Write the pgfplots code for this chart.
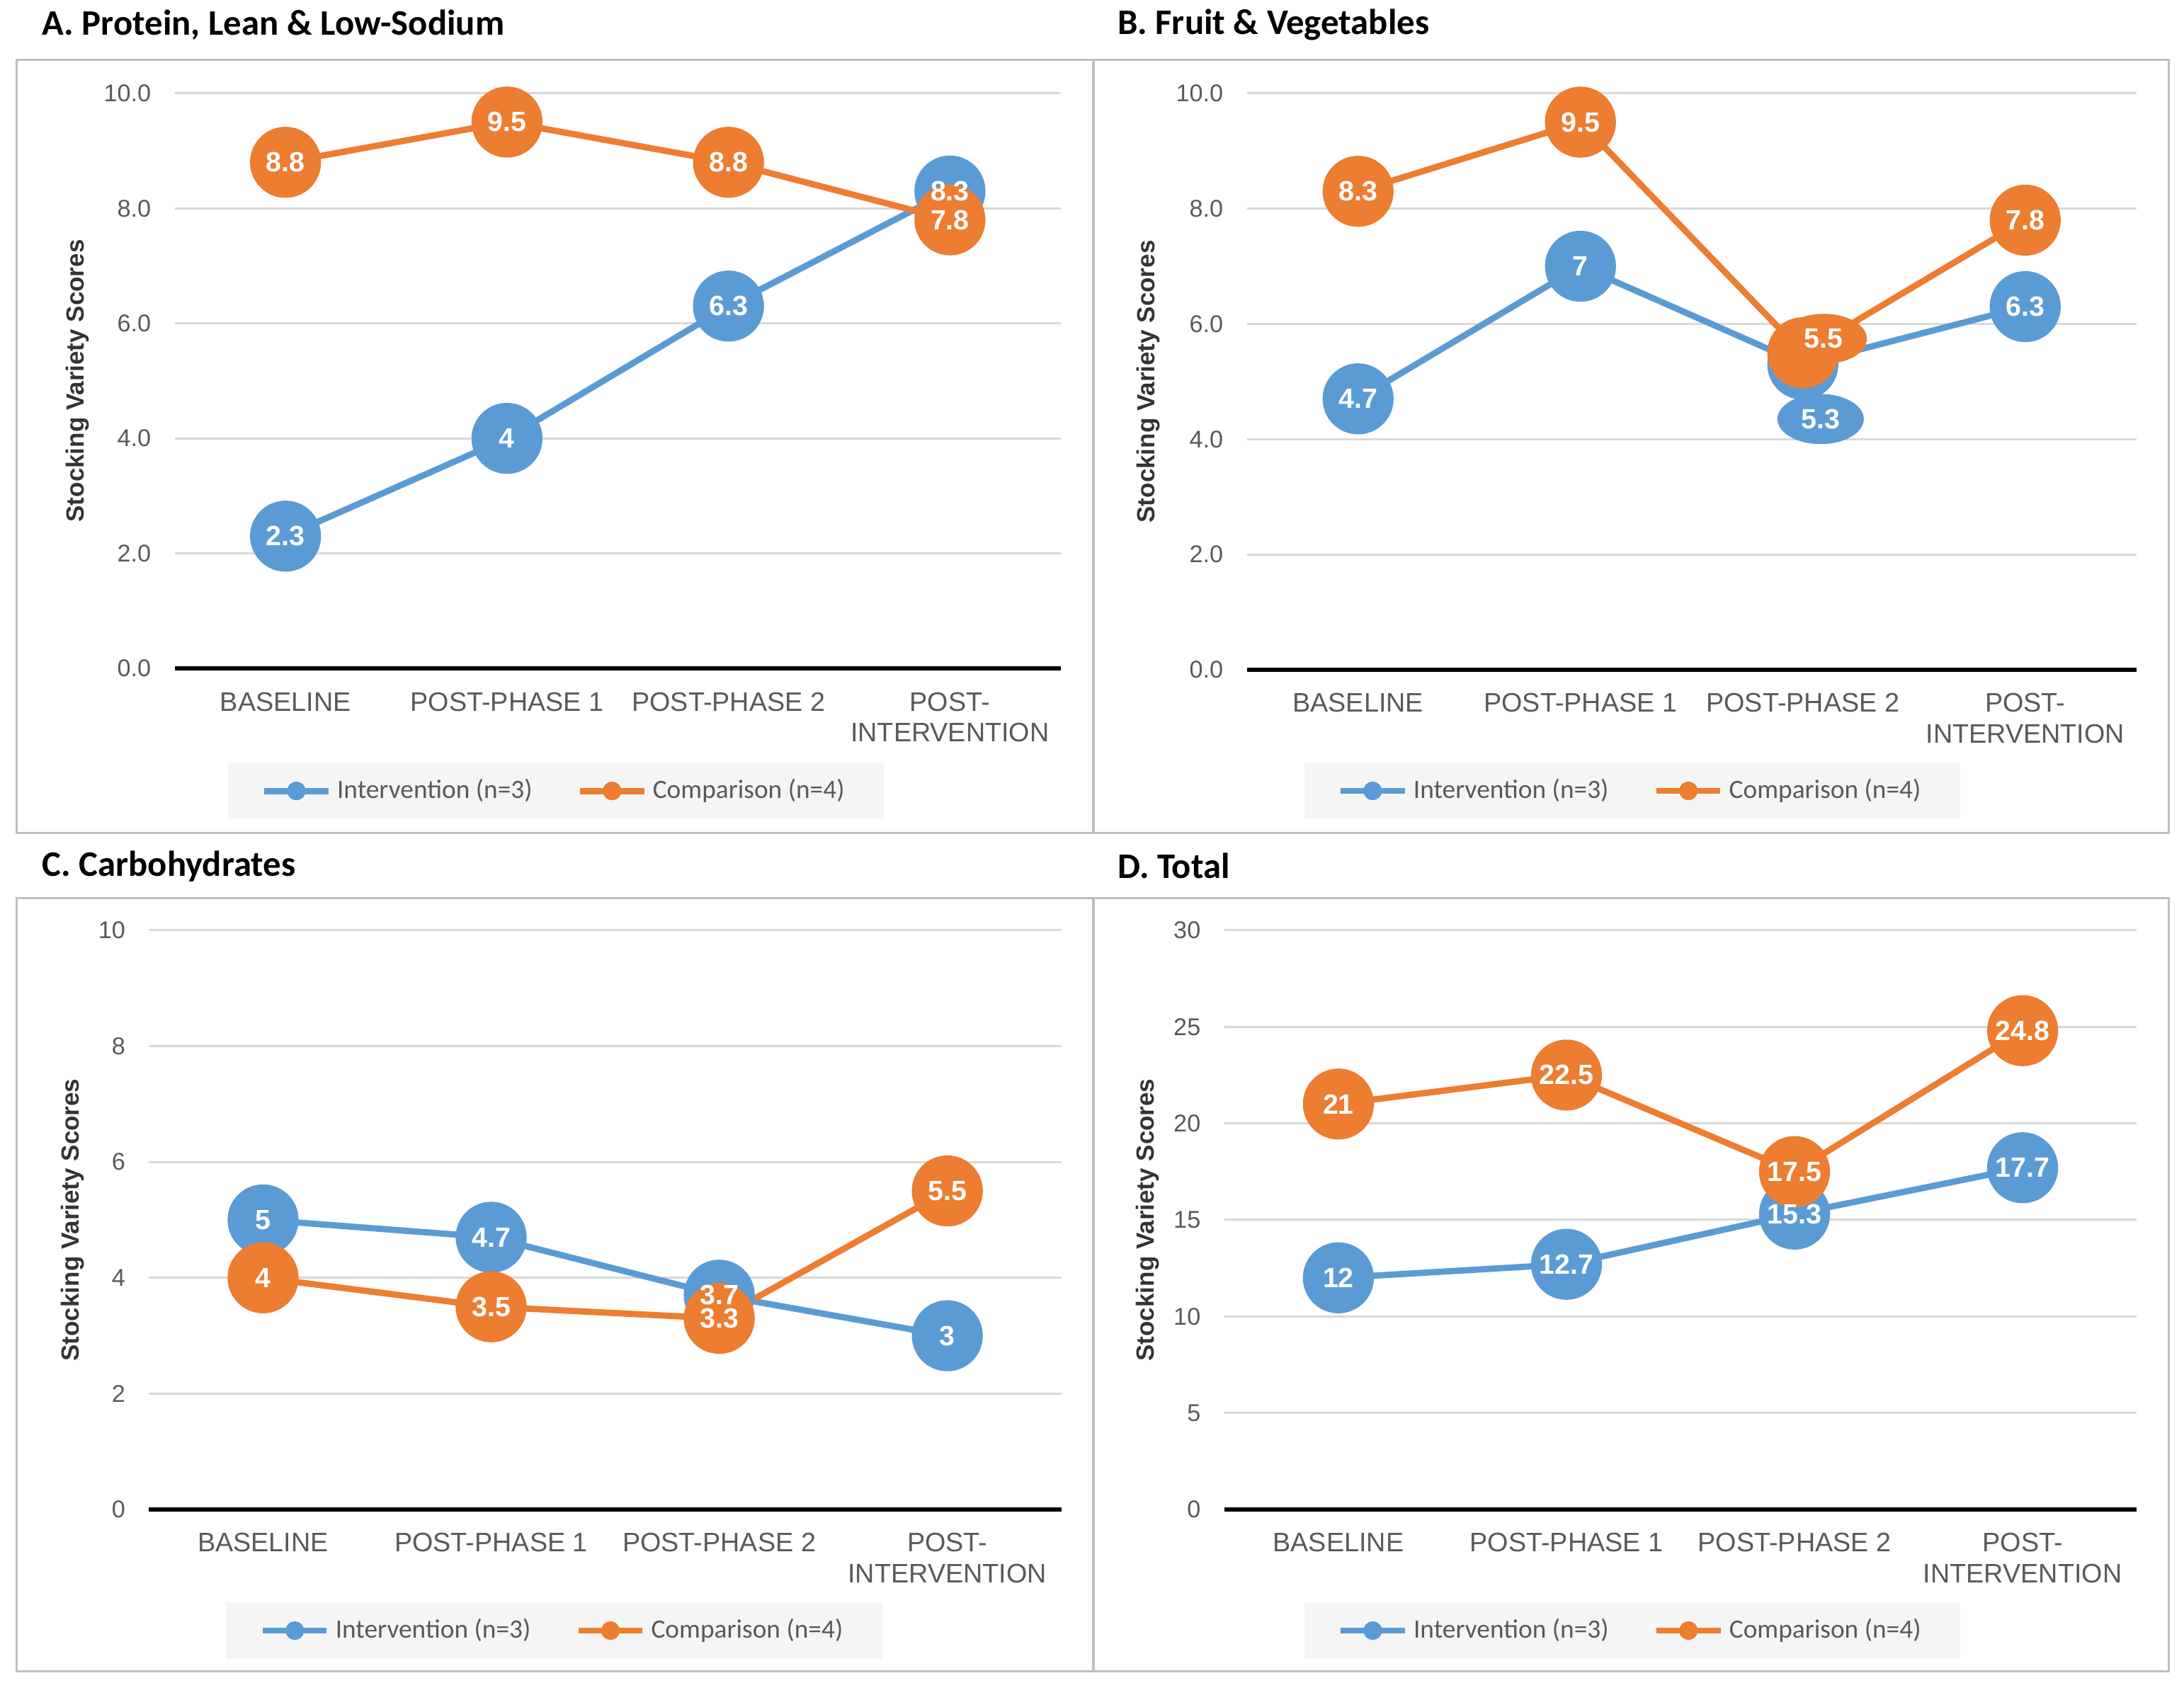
\documentclass[border=0pt]{standalone}
\usepackage{fontspec}
\setmainfont{Liberation Sans}
\newfontfamily\carlito{Carlito}
\usepackage{pgfplots}
\usepackage{pgfplotstable}
\pgfplotsset{compat=1.18}
\usetikzlibrary{shapes.geometric}

\definecolor{cblue}{HTML}{5B9BD5}
\definecolor{corange}{HTML}{ED7D31}
\definecolor{tickgray}{HTML}{595959}
\definecolor{gridgray}{HTML}{D9D9D9}
\definecolor{framegray}{HTML}{BFBFBF}

% x: 0 baseline, 1 post-phase 1, 2 post-phase 2, 3 post-intervention
\pgfplotstableread{
x int cmp
0 2.3 8.8
1 4.0 9.5
2 6.3 8.8
3 8.3 7.8
}\protein
\pgfplotstableread{
x int cmp
0 4.7 8.3
1 7.0 9.5
2 5.3 5.5
3 6.3 7.8
}\fruit
\pgfplotstableread{
x int cmp
0 5.0 4.0
1 4.7 3.5
2 3.7 3.3
3 3.0 5.5
}\carbs
\pgfplotstableread{
x int cmp
0 12.0 21.0
1 12.7 22.5
2 15.3 17.5
3 17.7 24.8
}\total

\tikzset{
  callout/.style={ellipse, fill=#1, text=white, font=\bfseries\fontsize{10}{12}\selectfont,
    minimum width=31pt, minimum height=18pt, inner sep=1pt},
}

\pgfplotsset{
  panel/.style={
    scale only axis, clip=false,
    xmin=-0.5, xmax=3.5, ymin=0,
    xtick={0,1,2,3},
    xticklabels={BASELINE,POST-PHASE 1,POST-PHASE 2,{POST-\\INTERVENTION}},
    major tick length=0pt,
    axis line style={draw=none},
    ymajorgrids, major grid style={gridgray, line width=0.75pt},
    tick label style={text=tickgray},
    yticklabel style={font=\fontsize{8.7}{10}\selectfont, xshift=-5pt},
    xticklabel style={font=\fontsize{9.6}{11}\selectfont, align=center, yshift=-5pt},
    /pgf/number format/assume math mode=true,
    ylabel={Stocking Variety Scores},
    ylabel style={anchor=center, font=\bfseries\fontsize{8.9}{10}\selectfont, text=black!80},
    legend columns=2,
    legend style={draw=none, fill=black!4, anchor=center,
      font=\carlito\fontsize{9.5}{11}\selectfont, text=tickgray,
      inner xsep=12pt, inner ysep=4pt,
      /tikz/every even column/.append style={column sep=14pt}},
    legend image code/.code={
      \draw[##1, mark=none] (0pt,0pt) -- (23pt,0pt);
      \fill[##1] (11.5pt,0pt) circle (2.2pt);},
  },
  ser/.style={color=#1, line width=2.25pt, mark=*, mark size=12.5pt,
    mark options={line width=0.5pt}},
  lab/.style={draw=none, mark=none, forget plot, point meta=y,
    nodes near coords={\pgfmathprintnumber[fixed,precision=1]{\pgfplotspointmeta}},
    every node near coord/.append style={anchor=center, text=white,
      font=\bfseries\fontsize{10}{12}\selectfont}},
  onedec/.style={yticklabel style={/pgf/number format/.cd, fixed, fixed zerofill, precision=1}},
}

\begin{document}
\begin{tikzpicture}
\path (0pt,0pt) rectangle (784pt,608.5pt);

% panel frames and titles
\draw[framegray, line width=0.8pt] (6pt,309.5pt) rectangle (392.5pt,587pt);
\draw[framegray, line width=0.8pt] (392.5pt,309.5pt) rectangle (778.5pt,587pt);
\draw[framegray, line width=0.8pt] (6pt,8.5pt) rectangle (392.5pt,286pt);
\draw[framegray, line width=0.8pt] (392.5pt,8.5pt) rectangle (778.5pt,286pt);
\begin{scope}[every node/.style={anchor=west, inner sep=0pt, font=\carlito\bfseries\fontsize{12.9}{14}\selectfont}]
\node at (15pt,599.5pt) {A. Protein, Lean \& Low-Sodium};
\node at (401pt,599.5pt) {B. Fruit \& Vegetables};
\node at (15pt,297.5pt) {C. Carbohydrates};
\node at (401pt,297.5pt) {D. Total};
\end{scope}

% A
\begin{axis}[panel, onedec, at={(62.75pt,368.5pt)}, anchor=south west,
  width=318pt, height=206.5pt, ymax=10, ytick={0,2,...,10},
  ylabel style={at={(axis description cs:-0.110,0.5)}},
  legend style={at={(0.43,-0.213)}}]
\draw[black, line width=1.5pt] (rel axis cs:0,0) -- (rel axis cs:1,0);
\addplot[ser=cblue] table[x=x, y=int] {\protein};
\addplot[ser=corange] table[x=x, y=cmp] {\protein};
\addplot[lab] table[x=x, y=int] {\protein};
\addplot[lab] table[x=x, y=cmp] {\protein};
\legend{Intervention (n=3), Comparison (n=4)}
\end{axis}

% B
\begin{axis}[panel, onedec, at={(447.6pt,368pt)}, anchor=south west,
  width=319.3pt, height=207pt, ymax=10, ytick={0,2,...,10},
  ylabel style={at={(axis description cs:-0.111,0.5)}},
  legend style={at={(0.433,-0.21)}},
  after end axis/.code={
    \node[callout=corange] at (axis cs:2.094,5.74) {5.5};
    \node[callout=cblue] at (axis cs:2.08,4.35) {5.3};
  }]
\draw[black, line width=1.5pt] (rel axis cs:0,0) -- (rel axis cs:1,0);
\addplot[ser=cblue] table[x=x, y=int] {\fruit};
\addplot[ser=corange] table[x=x, y=cmp] {\fruit};
\addplot[lab, skip coords between index={2}{3}] table[x=x, y=int] {\fruit};
\addplot[lab, skip coords between index={2}{3}] table[x=x, y=cmp] {\fruit};
\legend{Intervention (n=3), Comparison (n=4)}
\end{axis}

% C
\begin{axis}[panel, at={(53.5pt,66.5pt)}, anchor=south west,
  width=327.5pt, height=208pt, ymax=10, ytick={0,2,...,10},
  ylabel style={at={(axis description cs:-0.084,0.5)}},
  legend style={at={(0.444,-0.209)}}]
\draw[black, line width=1.5pt] (rel axis cs:0,0) -- (rel axis cs:1,0);
\addplot[ser=cblue] table[x=x, y=int] {\carbs};
\addplot[ser=corange] table[x=x, y=cmp] {\carbs};
\addplot[lab] table[x=x, y=int] {\carbs};
\addplot[lab] table[x=x, y=cmp] {\carbs};
\legend{Intervention (n=3), Comparison (n=4)}
\end{axis}

% D
\begin{axis}[panel, at={(439.5pt,66.5pt)}, anchor=south west,
  width=327.5pt, height=208pt, ymax=30, ytick={0,5,...,30},
  ylabel style={at={(axis description cs:-0.084,0.5)}},
  legend style={at={(0.447,-0.209)}}]
\draw[black, line width=1.5pt] (rel axis cs:0,0) -- (rel axis cs:1,0);
\addplot[ser=cblue] table[x=x, y=int] {\total};
\addplot[ser=corange] table[x=x, y=cmp] {\total};
\addplot[lab] table[x=x, y=int] {\total};
\addplot[lab] table[x=x, y=cmp] {\total};
\legend{Intervention (n=3), Comparison (n=4)}
\end{axis}
\end{tikzpicture}
\end{document}
